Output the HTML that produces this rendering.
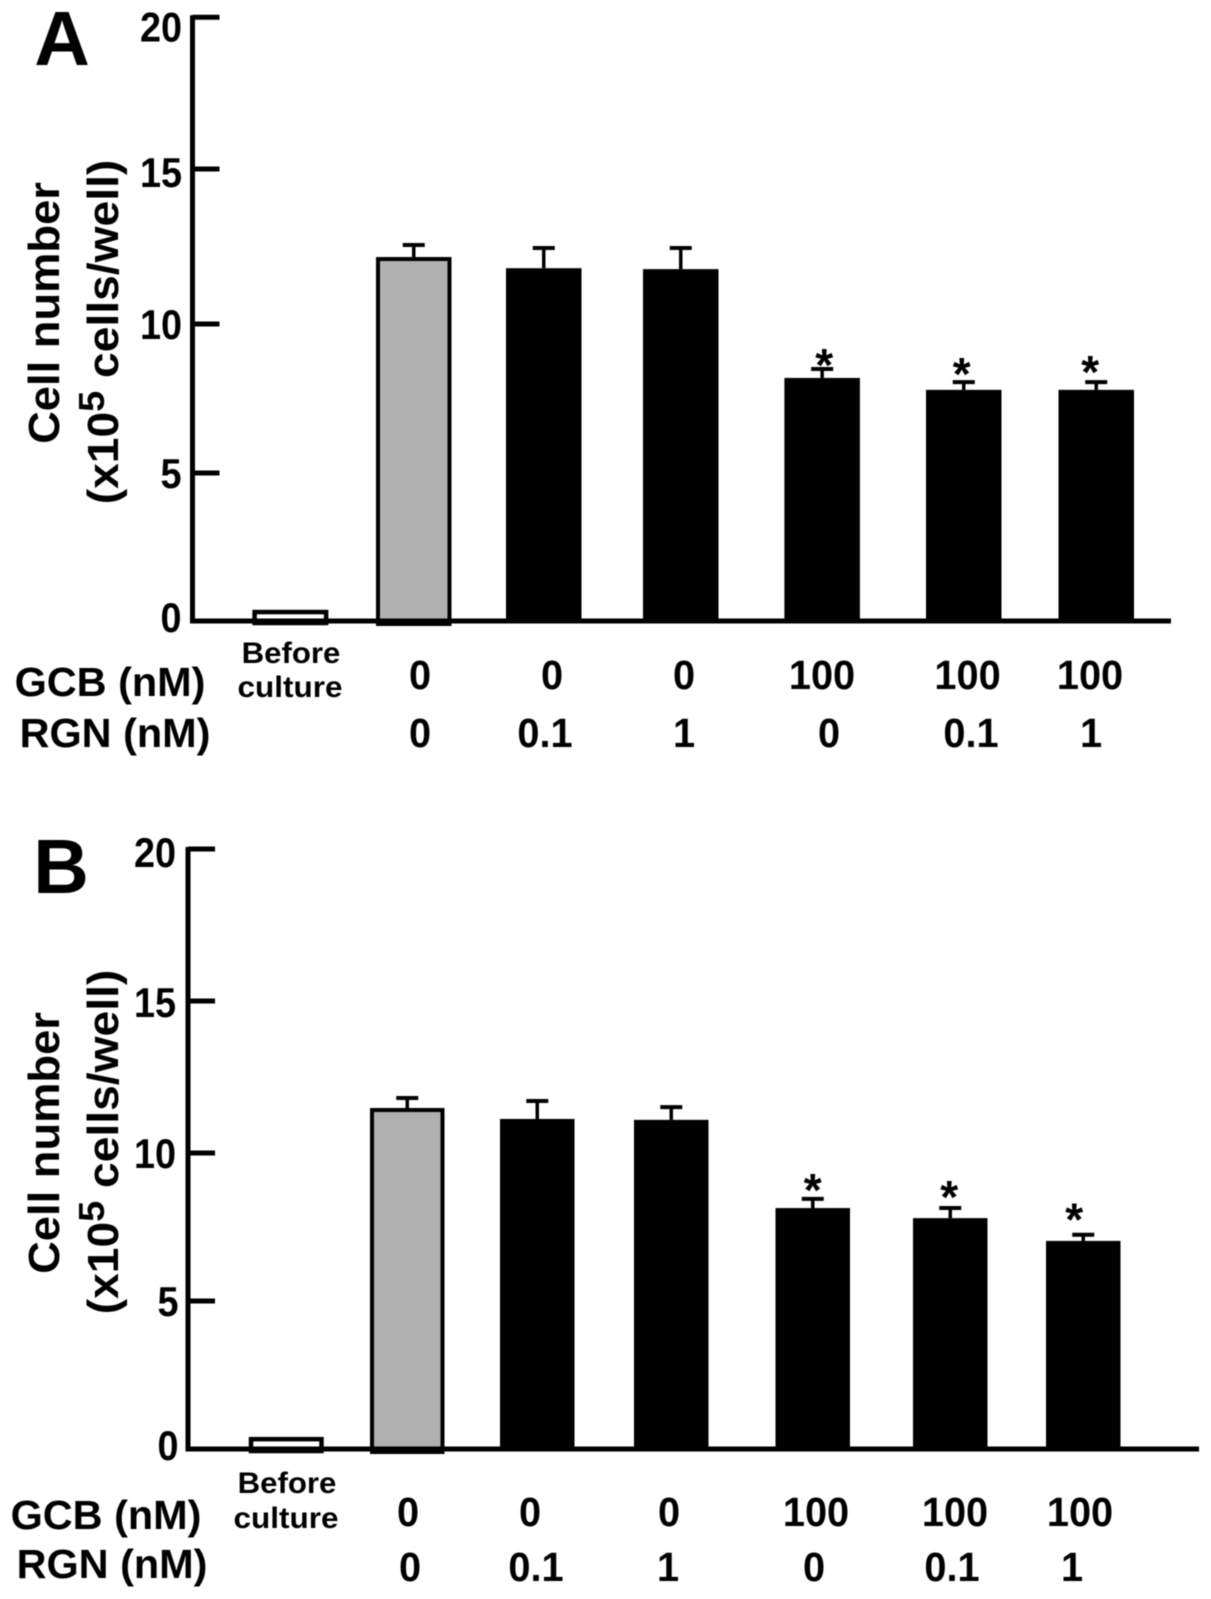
<!DOCTYPE html>
<html lang="en">
<head>
<meta charset="utf-8">
<title>Cell number bar charts</title>
<style>
  html, body { margin: 0; padding: 0; background: #fff; }
  svg { display: block; filter: blur(0.5px); }
  text { font-family: "Liberation Sans", sans-serif; font-weight: bold; fill: #000; }
</style>
</head>
<body>
<svg id="figure" xmlns="http://www.w3.org/2000/svg" width="1211" height="1599" viewBox="0 0 1211 1599"></svg>
<script>
const tickValues = [0, 5, 10, 15, 20];
const tickLabels = ['0', '5', '10', '15', '20'];
const gcbLabels = ['0', '0', '0', '100', '100', '100'];
const rgnLabels = ['0', '0.1', '1', '0', '0.1', '1'];
const significant = [false, false, false, false, true, true, true];
const panelAMeans = [0.37, 12.16, 11.8, 11.77, 8.19, 7.79, 7.79];
const panelAErrors = [0, 0.39, 0.65, 0.68, 0.3, 0.26, 0.26];
const panelBMeans = [0.4, 11.48, 11.12, 11.09, 8.14, 7.8, 7.03];
const panelBErrors = [0, 0.33, 0.59, 0.42, 0.31, 0.34, 0.21];

const SVG_NS = 'http://www.w3.org/2000/svg';
const figure = document.getElementById('figure');

function shape(parent, tag, attrs, name) {
  const el = document.createElementNS(SVG_NS, tag);
  for (const key in attrs) el.setAttribute(key, attrs[key]);
  
  
  parent.appendChild(el);
  return el;
}

function label(parent, str, x, y, size, sx, name, rotate) {
  const el = document.createElementNS(SVG_NS, 'text');
  const turn = rotate ? ' rotate(-90)' : '';
  el.setAttribute('transform', 'translate(' + x + ',' + y + ')' + turn + ' scale(' + sx + ',1)');
  el.setAttribute('text-anchor', 'middle');
  el.setAttribute('font-size', size);
  
  
  el.textContent = str;
  parent.appendChild(el);
  return el;
}

function drawPanel(p) {
  const g = shape(figure, 'g', {}, 'panel-' + p.letter.toLowerCase());
  // The printed axis is slightly uneven, so the scale is calibrated tick by tick
  const y = function (v) {
    let i = 0;
    while (i < tickValues.length - 2 && v > tickValues[i + 1]) i++;
    const t = (v - tickValues[i]) / (tickValues[i + 1] - tickValues[i]);
    return p.tickY[i] + t * (p.tickY[i + 1] - p.tickY[i]);
  };
  const baseY = y(0);

  label(g, p.letter, p.letterX, p.letterY, 77, 1, 'panel-letter-' + p.letter.toLowerCase());

  // Bars first so that the axis line stays on top
  p.means.forEach(function (mean, i) {
    const left = p.barLefts[i];
    const width = p.barWidth;
    const center = left + width / 2;
    const top = y(mean);
    const cap = y(mean + p.errors[i]);
    if (p.errors[i] > 0) {
      shape(g, 'line', { x1: center, x2: center, y1: cap, y2: top, stroke: '#000', 'stroke-width': 3.5 }, 'error-stem-' + i);
      shape(g, 'line', { x1: center - 11, x2: center + 11, y1: cap, y2: cap, stroke: '#000', 'stroke-width': 4 }, 'error-cap-' + i);
    }
    if (i === 0) {
      shape(g, 'rect', { x: left + 2, y: top + 2, width: width - 4, height: baseY - top, fill: '#fff', stroke: '#000', 'stroke-width': 4.5 }, 'bar-before-culture');
    } else if (i === 1) {
      shape(g, 'rect', { x: left + 2, y: top + 2, width: width - 4, height: baseY - top + 1, fill: '#b0b0b0', stroke: '#000', 'stroke-width': 4 }, 'bar-control');
    } else {
      shape(g, 'rect', { x: left, y: top, width: width, height: baseY - top, fill: '#000' }, 'bar-treatment-' + i);
    }
    if (significant[i]) {
      label(g, '*', center - 2 + p.starDx[i - 4], cap + 11 + p.starDy[i - 4], 46, 1, 'significance-star-' + i);
    }
  });

  // Axes
  shape(g, 'line', { x1: p.axisX, x2: p.axisX, y1: y(20) - 2, y2: baseY + 2.5, stroke: '#000', 'stroke-width': 5 }, 'y-axis');
  shape(g, 'line', { x1: p.axisX - 2.5, x2: p.axisEnd, y1: baseY, y2: baseY, stroke: '#000', 'stroke-width': 5 }, 'x-axis');

  tickValues.forEach(function (v, i) {
    if (v > 0) {
      shape(g, 'line', { x1: p.axisX, x2: p.axisX + p.tickLen, y1: y(v), y2: y(v), stroke: '#000', 'stroke-width': 5 }, 'y-tick-' + v);
    }
    const labelX = p.tickLabelX + (v < 10 ? p.singleDigitShift : 0);
    label(g, tickLabels[i], labelX, y(v) + p.tickLabelShift[i], 42, 0.9, 'y-tick-label-' + v);
  });

  // Y axis title
  label(g, 'Cell number', p.title1X, p.title1Y, 44, 1.03, 'y-axis-title-line-1', true);
  const t2 = label(g, '(x10', p.title2X, p.title2Y, 44, 1.05, 'y-axis-title-line-2', true);
  const sup = document.createElementNS(SVG_NS, 'tspan');
  sup.setAttribute('font-size', 36);
  sup.setAttribute('dy', -14);
  sup.textContent = '5';
  t2.appendChild(sup);
  const rest = document.createElementNS(SVG_NS, 'tspan');
  rest.setAttribute('dy', 14);
  rest.textContent = ' cells/well)';
  t2.appendChild(rest);

  // Category labels
  label(g, 'Before', p.beforeX, p.beforeY, 30, 1.04, 'category-before');
  label(g, 'culture', p.beforeX - 1, p.cultureY, 30, 1.05, 'category-culture');
  label(g, 'GCB (nM)', p.gcbTitleX, p.gcbTitleY, 41, 1.01, 'gcb-row-title');
  label(g, 'RGN (nM)', p.rgnTitleX, p.rgnTitleY, 41, 1.01, 'rgn-row-title');
  gcbLabels.forEach(function (s, i) {
    label(g, s, p.gcbX[i], p.gcbY, 41, 0.97, 'gcb-dose-' + i);
  });
  rgnLabels.forEach(function (s, i) {
    label(g, s, p.rgnX[i], p.rgnY, 41, 0.97, 'rgn-dose-' + i);
  });
}

drawPanel({
  letter: 'A', letterX: 62, letterY: 65,
  means: panelAMeans, errors: panelAErrors,
  tickY: [621, 473, 324, 169, 17.3],
  axisX: 192.5, axisEnd: 1171, tickLen: 27,
  barLefts: [252.6, 376, 506, 643, 784.4, 926, 1058.5], barWidth: 75.5,
  starDx: [4, 0, -4], starDy: [1, -3, -5],
  tickLabelX: 161, singleDigitShift: 10, tickLabelShift: [11, 15, 15, 18, 24],
  title1X: 59, title1Y: 313, title2X: 118, title2Y: 332,
  beforeX: 291, beforeY: 663, cultureY: 697,
  gcbTitleX: 110, gcbTitleY: 696, rgnTitleX: 115, rgnTitleY: 747,
  gcbX: [420, 552, 684, 822, 967.6, 1090], gcbY: 689,
  rgnX: [420, 545, 684, 829, 971, 1091], rgnY: 747
});

drawPanel({
  letter: 'B', letterX: 61, letterY: 893,
  means: panelBMeans, errors: panelBErrors,
  tickY: [1449, 1301, 1153, 1001, 849],
  axisX: 188, axisEnd: 1199, tickLen: 27,
  barLefts: [249, 370, 500, 634, 775.5, 913, 1046], barWidth: 74.5,
  starDx: [2, 1, -7], starDy: [-4, -6, -10],
  tickLabelX: 155, singleDigitShift: 13, tickLabelShift: [11, 15, 15, 16, 18],
  title1X: 59, title1Y: 1143, title2X: 118, title2Y: 1142,
  beforeX: 287, beforeY: 1493, cultureY: 1528,
  gcbTitleX: 106, gcbTitleY: 1529, rgnTitleX: 112, rgnTitleY: 1578,
  gcbX: [408, 530, 669, 816, 955, 1080], gcbY: 1526,
  rgnX: [410, 536, 668, 814, 952, 1072], rgnY: 1581
});
</script>
</body>
</html>
